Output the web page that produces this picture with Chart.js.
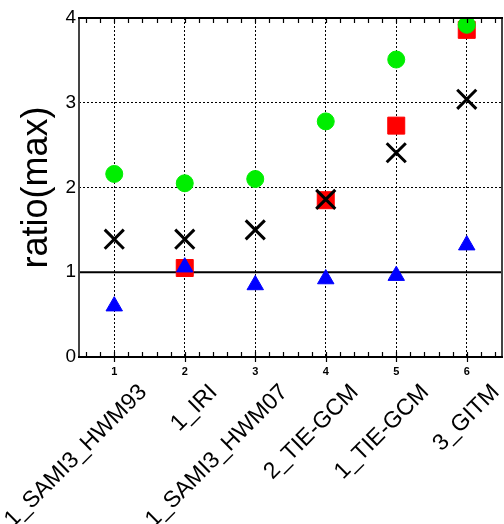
<!DOCTYPE html>
<html><head><meta charset="utf-8">
<script src="https://cdn.jsdelivr.net/npm/chart.js@4"></script>
<style>html,body{margin:0;padding:0;background:#fff}</style>
</head><body>
<canvas id="c" width="504" height="524"></canvas>
<script>
const categories = ['1_SAMI3_HWM93', '1_IRI', '1_SAMI3_HWM07', '2_TIE-GCM', '1_TIE-GCM', '3_GITM'];
const positions = [1, 2, 3, 4, 5, 6];
const greenCircles = [2.16, 2.05, 2.10, 2.78, 3.51, 3.92];
const redSquares = [null, 1.05, null, 1.85, 2.73, 3.86];
const blackCrosses = [1.39, 1.39, 1.50, 1.86, 2.41, 3.04];
const blueTriangles = [0.60, 1.06, 0.85, 0.92, 0.96, 1.32];
const yTicks = [0, 1, 2, 3, 4];
const referenceLevel = 1;
const xRange = [0.5, 6.5];
const yRange = [0, 4];

function toPoints(vals) {
  return vals.map((v, i) => ({x: positions[i], y: v})).filter(p => p.y !== null);
}

const framePlugin = {
  id: 'frame',
  afterDraw(chart) {
    const {ctx, chartArea: a, scales: {x}} = chart;
    ctx.save();
    ctx.strokeStyle = '#000';
    ctx.lineWidth = 1.2;
    ctx.setLineDash([]);
    for (let k = 3; k <= 32; k++) {
      const px = Math.round(x.getPixelForValue(k / 5)) + 0.5;
      const major = k % 5 === 0;
      ctx.beginPath();
      ctx.moveTo(px, a.top); ctx.lineTo(px, a.top + 5);
      ctx.moveTo(px, a.bottom + (major ? 5 : 0)); ctx.lineTo(px, a.bottom - 5);
      ctx.stroke();
    }
    ctx.lineWidth = 2;
    ctx.strokeStyle = '#444';
    ctx.beginPath();
    ctx.moveTo(a.left, a.top); ctx.lineTo(a.left, a.bottom);
    ctx.moveTo(a.right, a.top); ctx.lineTo(a.right, a.bottom);
    ctx.stroke();
    ctx.strokeStyle = '#000';
    ctx.beginPath();
    ctx.moveTo(a.left - 1, a.top); ctx.lineTo(a.right + 1, a.top);
    ctx.moveTo(a.left - 1, a.bottom); ctx.lineTo(a.right + 1, a.bottom);
    ctx.stroke();
    ctx.restore();
  }
};

const setTicks = vals => s => { s.ticks = vals.map(v => ({value: v})); };

new Chart(document.getElementById('c'), {
  type: 'scatter',
  data: {
    datasets: [
      {label: 'blue', data: toPoints(blueTriangles), pointStyle: 'triangle', pointRadius: 9.5, pointHoverRadius: 9.5,
       backgroundColor: '#0000ff', borderColor: '#0000ff', borderWidth: 1, order: 0},
      {label: 'black', data: toPoints(blackCrosses), pointStyle: 'crossRot', pointRadius: 13.5, pointHoverRadius: 13.5,
       backgroundColor: '#000', borderColor: '#000', borderWidth: 3, order: 1},
      {label: 'green', data: toPoints(greenCircles), pointStyle: 'circle', pointRadius: 8.5, pointHoverRadius: 8.5,
       backgroundColor: '#00ee00', borderColor: '#00ee00', borderWidth: 1, order: 2},
      {label: 'red', data: toPoints(redSquares), pointStyle: 'rect', pointRadius: 12, pointHoverRadius: 12,
       backgroundColor: '#ff0000', borderColor: '#ff0000', borderWidth: 1, order: 3},
      {type: 'line', label: 'ref', data: xRange.map(v => ({x: v, y: referenceLevel})), borderColor: '#000',
       borderWidth: 2, pointRadius: 0, order: 4}
    ]
  },
  options: {
    responsive: false,
    animation: false,
    events: [],
    layout: {autoPadding: false, padding: {top: 18, right: 2, left: 0, bottom: 0}},
    plugins: {legend: {display: false}, tooltip: {enabled: false}},
    scales: {
      x: {
        type: 'linear', position: 'bottom', min: xRange[0], max: xRange[1],
        afterBuildTicks: setTicks(positions),
        afterFit: s => { s.height = 22; s.paddingLeft = 0; s.paddingRight = 0; },
        ticks: {color: '#000', font: {family: 'Liberation Sans', size: 11, weight: 'bold'}, padding: 8,
                maxRotation: 0, callback: v => String(v)},
        grid: {color: '#000', lineWidth: 1, drawTicks: false},
        border: {display: false, dash: [2, 2]}
      },
      x2: {
        type: 'linear', position: 'bottom', min: xRange[0], max: xRange[1],
        afterBuildTicks: setTicks(positions),
        afterFit: s => { s.height = 145; s.paddingLeft = 0; s.paddingRight = 0; },
        ticks: {color: '#000', font: {family: 'Liberation Sans', size: 23}, padding: 0,
                minRotation: 45, maxRotation: 45, autoSkip: false, labelOffset: 29,
                callback: v => categories[positions.indexOf(v)]},
        grid: {display: false, drawTicks: false},
        border: {display: false}
      },
      y: {
        type: 'linear', min: yRange[0], max: yRange[1],
        afterBuildTicks: setTicks(yTicks),
        afterFit: s => { s.width = 79; },
        ticks: {color: '#000', font: {family: 'Liberation Sans', size: 19}, padding: 3},
        grid: {color: c => (c.tick && (c.tick.value === yRange[0] || c.tick.value === yRange[1])) ? 'rgba(0,0,0,0)' : '#000',
               lineWidth: 1, drawTicks: false},
        border: {display: false, dash: [2, 2]},
        title: {display: true, text: 'ratio(max)', color: '#000',
                font: {family: 'Liberation Sans', size: 36}, padding: {top: 15, bottom: 0}}
      }
    }
  },
  plugins: [framePlugin]
});
</script>
</body></html>
